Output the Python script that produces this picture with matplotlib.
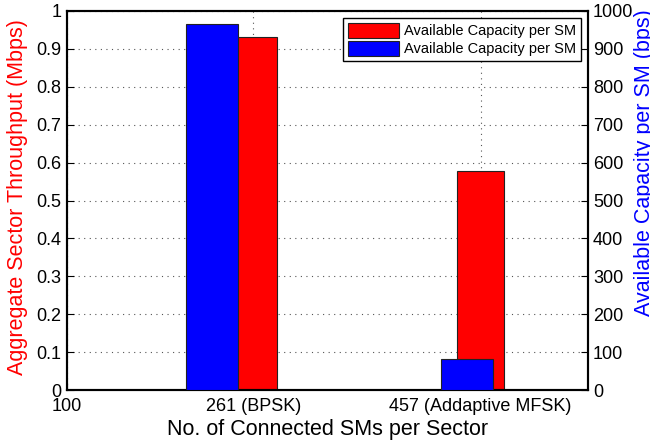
import numpy as np
import matplotlib.pyplot as plt

plt.rcParams['font.family'] = ['Liberation Sans', 'DejaVu Sans']

# data
sms = [261, 457]                 # no. of connected SMs per sector
throughput = [0.932, 0.578]      # Mbps, left axis (red)
capacity = [966, 83]             # bps, right axis (blue)
xtick_vals = [100, 261, 457]
xtick_labels = ["100", "261 (BPSK)", "457 (Addaptive MFSK)"]
label = "Available Capacity per SM"

blue_shift = [-36, -12]  # where the blue bars sit relative to the tick

fig = plt.figure(figsize=(6.5, 4.4), dpi=100)
ax = fig.add_axes([0.103, 0.1136, 0.802, 0.8614])
ax2 = ax.twinx()

h1 = ax.bar(sms, throughput, width=40, color='red', edgecolor='#222222', linewidth=0.8,
            label=label, zorder=2)
ax.set_xlim(100, 550)
ax.set_ylim(0, 1)
ax.set_yticks(np.arange(0, 1.01, 0.1))
ax.set_yticklabels(["0", "0.1", "0.2", "0.3", "0.4", "0.5", "0.6", "0.7", "0.8", "0.9", "1"])
ax.set_xticks(xtick_vals)
ax.set_xticklabels(xtick_labels)
ax.grid(True, linestyle=(0, (1, 4)), color='#555555', linewidth=0.8)
ax.set_axisbelow(True)

bx = [s + d for s, d in zip(sms, blue_shift)]
h2 = ax2.bar(bx, capacity, width=45, color='blue', edgecolor='#222222', linewidth=0.8,
             label=label, zorder=3)
ax2.set_ylim(0, 1000)
ax2.set_yticks(np.arange(0, 1001, 100))

for a in (ax, ax2):
    a.tick_params(direction='in', labelsize=13, length=5, width=0.8)
    for sp in a.spines.values():
        sp.set_linewidth(1.5)
ax.tick_params(axis='x', pad=6)
ax.tick_params(axis='y', pad=4)

ax.set_xlabel("No. of Connected SMs per Sector", fontsize=15.5)
ax.set_ylabel("Aggregate Sector Throughput (Mbps)", fontsize=15.5, color='red')
ax2.set_ylabel("Available Capacity per SM (bps)", fontsize=15.5, color='blue')
ax.xaxis.set_label_coords(0.5, -0.105)
ax.xaxis.label.set_va('center')
ax.yaxis.set_label_coords(-0.094, 0.51)
ax.yaxis.label.set_va('center')
ax2.yaxis.set_label_coords(1.108, 0.6)
ax2.yaxis.label.set_va('center')

leg = ax2.legend([h1, h2], [label, label], loc='upper right', fontsize=10.5,
                 fancybox=False, edgecolor='black', framealpha=1,
                 borderaxespad=0.5, handlelength=3.5, handleheight=1.2,
                 borderpad=0.3, labelspacing=0.2, handletextpad=0.4)
leg.get_frame().set_linewidth(1)

fig.savefig("out.png", dpi=100)
